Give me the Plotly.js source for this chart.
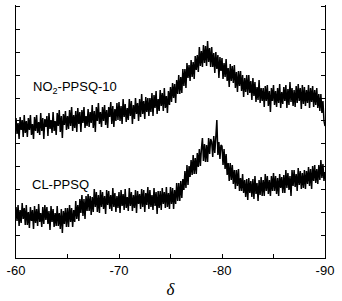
<!DOCTYPE html>
<html>
<head>
<meta charset="utf-8">
<script src="https://cdn.plot.ly/plotly-3.0.1.min.js"></script>
<style>
  html, body { margin: 0; padding: 0; background: #fff; }
  #chart { width: 342px; height: 301px; }
</style>
</head>
<body>
<div id="chart"></div>
<script>
// chemical shift grid: -60 ... -90 ppm, 0.1 ppm steps (x0/dx below)
const shiftStart = -60;
const shiftStep = -0.1;

// NO2-PPSQ-10 intensity (a.u.)
const no2Intensity = [
  140,124,135,119,141,128,138,121,143,125,
  137,121,140,128,143,123,134,119,141,127,
  143,125,136,123,145,127,140,119,139,131,
  142,122,145,129,138,125,146,127,137,123,
  145,132,148,126,142,120,144,133,147,128,
  142,129,148,132,151,127,143,130,147,126,
  150,134,146,126,148,135,151,130,142,132,
  149,131,146,135,153,130,147,126,151,137,
  155,134,146,131,151,137,153,133,148,130,
  151,141,156,134,152,131,149,137,155,138,
  156,137,152,134,159,141,154,136,150,138,
  159,142,157,134,153,139,160,144,155,137,
  159,141,164,144,157,139,161,146,160,142,
  160,146,165,142,163,150,167,144,159,147,
  168,152,165,147,170,150,162,145,167,153,
  171,156,175,160,174,155,178,164,183,164,
  181,165,189,172,189,170,195,180,193,177,
  198,181,196,179,202,188,203,186,211,192,
  207,191,213,195,212,192,217,196,210,191,
  211,191,205,185,206,189,203,180,201,187,
  200,179,195,181,199,177,190,171,194,177,
  192,175,193,170,186,166,187,172,187,167,
  183,161,180,166,183,163,183,165,177,158,
  180,162,176,156,171,158,178,155,170,157,
  170,151,172,157,173,152,167,146,170,157,
  173,153,167,151,170,155,174,150,166,154,
  171,157,173,150,169,153,176,156,170,152,
  168,151,172,155,174,157,170,149,173,154,
  171,152,168,155,173,150,170,156,172,151,
  168,153,170,150,164,147,164,145,157,137,
  132
];

// CL-PPSQ intensity (a.u.)
const clIntensity = [
  51,37,53,32,48,35,55,39,50,33,
  53,33,46,30,51,37,48,29,52,35,
  49,32,54,36,45,31,51,34,53,38,
  51,34,47,28,52,36,49,31,45,32,
  52,32,45,29,49,25,47,34,50,31,
  50,31,53,36,50,31,48,36,57,39,
  53,37,59,45,63,42,59,39,62,47,
  64,47,62,43,61,46,69,51,66,46,
  63,45,68,51,66,49,62,44,68,53,
  67,49,63,47,70,51,65,46,62,50,
  66,45,68,52,64,48,69,50,61,47,
  70,52,66,47,63,50,68,45,67,54,
  64,49,69,51,68,46,65,53,71,49,
  68,51,63,48,70,52,66,44,67,50,
  67,48,70,54,66,50,71,51,65,49,
  71,54,70,49,68,54,75,57,75,57,
  77,60,79,68,87,70,93,73,92,81,
  98,83,103,84,100,84,105,91,109,92,
  109,120,97,114,96,113,96,120,104,119,
  116,101,122,105,121,138,103,116,99,113,
  112,93,109,89,104,83,95,77,95,78,
  93,74,88,69,88,72,89,67,80,67,
  84,65,78,61,79,58,80,65,77,61,
  79,59,82,64,75,57,78,63,81,62,
  78,62,84,67,82,64,78,62,82,67,
  85,67,82,64,80,62,84,70,81,65,
  83,65,88,70,85,68,82,62,88,72,
  88,71,84,67,90,73,87,69,85,70,
  88,69,87,74,91,72,89,69,92,77,
  93,75,89,74,93,78,98,80,94,77,
  86
];

const tickShifts = [-60, -65, -70, -75, -80, -85, -90];
const tickLabels = ["-60", "", "-70", "", "-80", "", "-90"];

const traces = [
  {
    type: "scatter", mode: "lines", name: "NO2-PPSQ-10",
    x0: shiftStart, dx: shiftStep, y: no2Intensity,
    line: {color: "#000", width: 1.5}
  },
  {
    type: "scatter", mode: "lines", name: "CL-PPSQ",
    x0: shiftStart, dx: shiftStep, y: clIntensity,
    line: {color: "#000", width: 1.5}
  }
];

const layout = {
  width: 342, height: 301,
  margin: {l: 16, r: 17, t: 5, b: 43},
  paper_bgcolor: "#fff", plot_bgcolor: "#fff",
  showlegend: false,
  font: {family: "Liberation Sans, Arial, sans-serif", size: 13, color: "#000"},
  xaxis: {
    range: [-60, -90],
    tickmode: "array", tickvals: tickShifts, ticktext: tickLabels,
    ticks: "inside", ticklen: 4, tickcolor: "#000",
    showline: true, linecolor: "#000", linewidth: 1,
    showgrid: false, zeroline: false,
    tickfont: {size: 13},
    title: {text: "<i>δ</i>", font: {family: "Liberation Serif, serif", size: 17}, standoff: 6}
  },
  yaxis: {
    range: [0, 253],
    tick0: 0, dtick: 22.85,
    ticks: "inside", ticklen: 4, tickcolor: "#000",
    showticklabels: false,
    showline: true, linecolor: "#000", linewidth: 1, mirror: "ticks",
    showgrid: false, zeroline: false
  },
  annotations: [
    {text: "NO<sub>2</sub>-PPSQ-10", xref: "x", yref: "y", x: -61.5, y: 171,
     xanchor: "left", yanchor: "middle", showarrow: false, font: {size: 13}},
    {text: "CL-PPSQ", xref: "x", yref: "y", x: -61.4, y: 74,
     xanchor: "left", yanchor: "middle", showarrow: false, font: {size: 13}}
  ]
};

Plotly.newPlot("chart", traces, layout, {displayModeBar: false, staticPlot: true});
</script>
</body>
</html>
